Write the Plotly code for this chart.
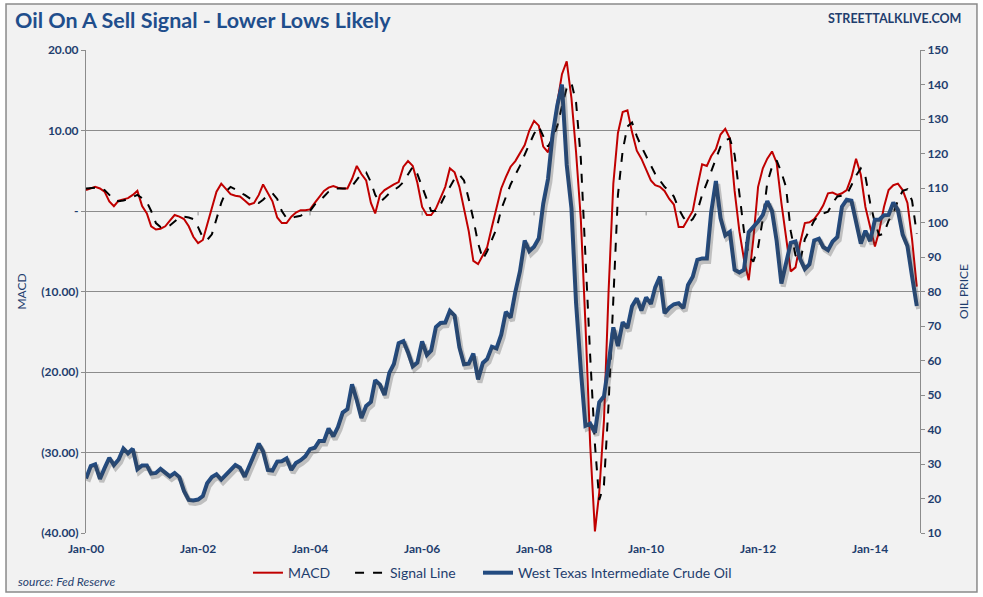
import plotly.graph_objects as go
import pandas as pd

# ---------------- data (monthly, Jan-2000 .. Nov-2014) ----------------
start_month = "2000-01-01"
n_months = 179

oil_price = [
    # 2000
    25.8, 29.4, 29.9, 25.7, 28.8, 31.8, 29.7, 31.3, 34.5, 33.1, 34.4, 28.5,
    # 2001
    29.6, 29.6, 27.2, 27.4, 28.6, 27.6, 26.4, 27.4, 26.2, 22.2, 19.6, 19.4,
    # 2002
    19.7, 20.7, 24.4, 26.2, 27.0, 25.5, 26.9, 28.4, 29.7, 28.9, 26.3, 29.4,
    # 2003
    32.9, 35.9, 33.6, 28.3, 28.1, 30.7, 30.8, 31.6, 28.3, 30.3, 31.1, 32.2,
    # 2004
    34.3, 34.7, 36.7, 36.7, 40.3, 38.0, 40.7, 44.9, 45.9, 53.1, 48.5, 43.3,
    # 2005
    46.8, 48.0, 54.3, 53.0, 50.0, 56.4, 59.0, 65.0, 65.6, 62.4, 58.3, 59.4,
    # 2006
    65.5, 61.6, 62.9, 69.7, 70.9, 71.0, 74.4, 73.0, 63.8, 58.9, 59.1, 62.0,
    # 2007
    54.5, 59.3, 60.4, 64.0, 63.5, 67.5, 74.1, 72.4, 79.9, 85.8, 94.8, 91.7,
    # 2008
    93.0, 95.4, 105.5, 112.6, 125.4, 134.0, 140.0, 116.7, 104.1, 76.6, 57.3, 41.1,
    # 2009
    41.7, 39.1, 47.9, 49.6, 59.0, 69.6, 64.2, 71.1, 69.4, 75.7, 78.0, 74.5,
    # 2010
    78.3, 76.4, 81.2, 84.3, 73.7, 75.3, 76.3, 76.6, 75.2, 81.9, 84.3, 89.2,
    # 2011
    89.6, 89.6, 102.9, 112.0, 101.3, 96.3, 97.3, 86.3, 85.5, 86.3, 97.2, 98.6,
    # 2012
    100.3, 102.2, 106.2, 103.3, 94.7, 82.3, 87.9, 94.1, 94.5, 89.5, 86.5, 87.9,
    # 2013
    94.8, 95.3, 92.9, 92.0, 94.5, 95.8, 104.6, 106.6, 106.3, 100.5, 93.9, 97.6,
    # 2014
    94.6, 100.8, 100.8, 102.1, 102.2, 105.8, 103.6, 96.5, 93.2, 84.4, 75.8,
]

macd = [
    # 2000
    2.6, 2.8, 3.0, 2.8, 2.4, 1.2, 0.6, 1.3, 1.5, 1.6, 2.0, 2.5,
    # 2001
    0.6, -0.3, -1.9, -2.3, -2.2, -1.9, -1.2, -0.5, -0.7, -1.0, -1.9, -3.2,
    # 2002
    -4.0, -3.6, -1.7, 0.5, 2.4, 3.4, 2.8, 2.1, 1.9, 1.8, 1.3, 0.8,
    # 2003
    1.0, 2.0, 3.3, 2.2, 1.2, -0.8, -1.5, -1.5, -0.7, -0.2, 0.1, 0.1,
    # 2004
    0.2, 1.0, 1.8, 2.5, 2.9, 3.1, 2.9, 2.8, 2.8, 4.0, 5.6, 4.6,
    # 2005
    3.8, 1.0, -0.3, 2.0, 2.6, 3.0, 3.3, 3.6, 5.5, 6.2, 5.6, 3.5,
    # 2006
    0.5, -0.5, -0.5, 0.3, 1.6, 3.0, 5.3, 4.8, 3.0, 0.5, -2.5, -6.2,
    # 2007
    -6.6, -5.5, -4.5, -2.0, 0.5, 2.8, 4.2, 5.5, 6.2, 7.2, 8.2, 10.0,
    # 2008
    11.2, 10.6, 8.0, 7.3, 9.5, 13.5, 17.0, 18.6, 14.0, 7.3, -1.0, -14.0,
    # 2009
    -29.0, -39.8, -35.0, -26.0, -10.0, 3.4, 9.7, 12.3, 12.5, 9.8, 7.5, 6.5,
    # 2010
    5.1, 3.8, 3.2, 3.0, 2.5, 1.5, 0.8, -2.0, -2.0, -1.0, 0.0, 3.0,
    # 2011
    5.8, 5.6, 6.8, 7.7, 9.5, 10.2, 9.0, 2.5, -2.5, -6.0, -8.6, -3.5,
    # 2012
    3.0, 5.3, 6.5, 7.4, 6.0, 1.0, -3.5, -7.5, -7.0, -4.0, -1.5, -1.4,
    # 2013
    -1.0, -0.2, 0.7, 2.2, 2.3, 2.0, 2.2, 2.6, 4.2, 6.5, 4.5, 0.5,
    # 2014
    -2.0, -4.4, -2.5, 0.5, 2.6, 3.2, 3.4, 2.6, 1.0, -3.5, -9.4,
]

signal_line = [
    # 2000
    2.8, 2.9, 2.9, 2.9, 2.6, 2.0, 1.4, 1.2, 1.3, 1.5, 1.8, 2.0,
    # 2001
    1.6, 1.1, 0.0, -1.5, -2.0, -2.1, -1.8, -1.3, -0.8, -0.7, -0.8, -1.0,
    # 2002
    -2.0, -3.3, -3.6, -2.9, -1.0, 1.0, 2.4, 3.0, 2.7, 2.3, 2.0, 1.6,
    # 2003
    1.2, 1.0, 1.4, 2.0, 2.2, 1.5, 0.0, -0.9, -0.9, -0.7, -0.6, -0.2,
    # 2004
    0.0, 0.8, 1.2, 1.8, 2.4, 2.8, 2.8, 2.8, 2.8, 3.1, 3.8, 4.6,
    # 2005
    4.8, 3.6, 2.0, 1.1, 1.6, 2.2, 2.6, 3.0, 3.6, 4.6, 5.5, 4.6,
    # 2006
    3.0, 1.2, 0.0, 0.0, 0.8, 2.0, 3.0, 4.0, 4.5, 3.8, 1.5, -1.0,
    # 2007
    -4.0, -6.0, -5.0, -3.6, -2.2, 0.2, 1.8, 3.3, 4.5, 5.6, 7.0, 8.4,
    # 2008
    9.6, 10.5, 9.3, 8.0, 9.0, 10.6, 13.0, 15.3, 15.9, 13.5, 6.5, -6.0,
    # 2009
    -18.0, -29.0, -35.9, -34.0, -24.0, -11.0, 2.0, 7.5, 10.5, 11.0, 9.3, 8.0,
    # 2010
    6.8, 5.5, 4.6, 3.8, 3.0, 2.5, 1.8, 0.3, -0.8, -1.5, -1.0, 0.0,
    # 2011
    2.0, 3.5, 5.0, 6.5, 8.0, 8.8, 9.0, 7.0, 2.0, -2.5, -5.5, -6.3,
    # 2012
    -4.5, -1.0, 3.5, 5.5, 6.3, 4.8, 3.0, -2.5, -5.5, -6.3, -3.5, -2.4,
    # 2013
    -1.2, -0.5, -0.3, -0.1, 1.0, 1.8, 1.9, 2.0, 3.2, 4.4, 5.3, 4.3,
    # 2014
    1.0, -1.5, -3.0, -2.8, -1.2, -0.3, 1.3, 2.5, 2.7, 1.3, -2.8,
]

macd_ticks = [20, 10, 0, -10, -20, -30, -40]
macd_tick_labels = ["20.00", "10.00", "-", "(10.00)", "(20.00)", "(30.00)", "(40.00)"]
x_tick_dates = ["2000-01-01", "2002-01-01", "2004-01-01", "2006-01-01",
                "2008-01-01", "2010-01-01", "2012-01-01", "2014-01-01"]
x_tick_labels = ["Jan-00", "Jan-02", "Jan-04", "Jan-06", "Jan-08", "Jan-10", "Jan-12", "Jan-14"]

dates = pd.date_range(start_month, periods=n_months, freq="MS")

# ---------------- styling ----------------
NAVY = "#1F3E6E"
GRID = "#8C8C8C"
FONT = "Lato"

x_range = ["2000-01-01", "2014-11-22"]
y2_range = [10, 150]
# shadow offsets (pixels converted through axis scales)
shadow_dy = 3 * (y2_range[1] - y2_range[0]) / 483.0
x_shift_days = 12
x2_range = [str((pd.Timestamp(x_range[0]) - pd.Timedelta(days=x_shift_days)).date()),
            str((pd.Timestamp(x_range[1]) - pd.Timedelta(days=x_shift_days)).date())]

tick_font = dict(size=12, color=NAVY, family=FONT, weight="bold")

fig = go.Figure()

# oil shadow
fig.add_trace(go.Scatter(
    x=dates, y=oil_price, mode="lines", xaxis="x2", yaxis="y3",
    line=dict(color="rgba(60,60,60,0.28)", width=5),
    showlegend=False, hoverinfo="skip"))

fig.add_trace(go.Scatter(
    x=dates, y=macd, name="MACD", mode="lines",
    line=dict(color="#C00000", width=2), yaxis="y", legend="legend"))
fig.add_trace(go.Scatter(
    x=dates, y=signal_line, name="Signal Line", mode="lines",
    line=dict(color="#000000", width=2, dash="dash"), yaxis="y", legend="legend2"))
fig.add_trace(go.Scatter(
    x=dates, y=oil_price, name="West Texas Intermediate Crude Oil", mode="lines",
    line=dict(color="#234B80", width=4), yaxis="y2", legend="legend3"))

shapes = [
    dict(type="rect", xref="paper", yref="paper", x0=-0.0959, x1=1.0683, y0=-0.1222, y1=1.0952,
         fillcolor="#F2F2F2", line=dict(color="#8A8A8A", width=1.5), layer="below"),
]
for d in x_tick_dates[1:]:
    shapes.append(dict(type="line", xref="x", yref="y", x0=d, x1=d, y0=0, y1=-0.55,
                       line=dict(color=GRID, width=1), layer="below"))

legend_common = dict(orientation="h", xanchor="left", y=-0.083, yanchor="middle",
                     font=dict(size=14, color=NAVY, family=FONT), bgcolor="rgba(0,0,0,0)")

fig.update_layout(
    width=983, height=597,
    margin=dict(l=86, r=63, t=50, b=64, autoexpand=False),
    paper_bgcolor="white", plot_bgcolor="rgba(0,0,0,0)",
    font=dict(family=FONT, color=NAVY),
    showlegend=True,
    legend=dict(x=0.1942, **legend_common),
    legend2=dict(x=0.3166, **legend_common),
    legend3=dict(x=0.4700, **legend_common),
    xaxis=dict(type="date", range=x_range, tickvals=x_tick_dates, ticktext=x_tick_labels,
               showgrid=False, zeroline=False, showline=False, automargin=False,
               ticks="outside", ticklen=5, tickcolor="rgba(0,0,0,0)",
               tickfont=tick_font),
    xaxis2=dict(type="date", range=x2_range, overlaying="x", visible=False),
    yaxis=dict(range=[-40, 20], tickvals=macd_ticks, ticktext=macd_tick_labels,
               showgrid=True, gridcolor=GRID, gridwidth=1, zeroline=False,
               showline=True, linecolor=GRID, linewidth=1, automargin=False,
               ticks="outside", ticklen=4, tickcolor=GRID,
               tickfont=tick_font,
               title=dict(text="MACD", font=dict(size=12, color=NAVY), standoff=12)),
    yaxis2=dict(range=y2_range, dtick=10, overlaying="y", side="right",
                showgrid=False, zeroline=False, showline=True, linecolor=GRID, linewidth=1,
                automargin=False,
                ticks="outside", ticklen=4, tickcolor=GRID,
                tickfont=tick_font,
                title=dict(text="OIL PRICE", font=dict(size=12, color=NAVY), standoff=12)),
    yaxis3=dict(range=[y2_range[0] + shadow_dy, y2_range[1] + shadow_dy], overlaying="y",
                visible=False),
    shapes=shapes,
    annotations=[
        dict(text="<b>Oil On A Sell Signal - Lower Lows Likely</b>", xref="paper", yref="paper",
             x=-0.0875, y=1.062, xanchor="left", yanchor="middle", showarrow=False,
             font=dict(size=21.5, color="#1F4E8C", family=FONT)),
        dict(text="<b>STREETTALKLIVE.COM</b>", xref="paper", yref="paper",
             x=1.0515, y=1.066, xanchor="right", yanchor="middle", showarrow=False,
             font=dict(size=12.5, color=NAVY, family=FONT)),
        dict(text="<i>source: Fed Reserve</i>", xref="paper", yref="paper",
             x=-0.084, y=-0.1, xanchor="left", yanchor="middle", showarrow=False,
             font=dict(size=12, color=NAVY, family=FONT)),
    ],
)

fig.write_html("out.html", config={"displayModeBar": False},
               post_script="document.body.style.margin='0';document.body.style.overflow='hidden';")
